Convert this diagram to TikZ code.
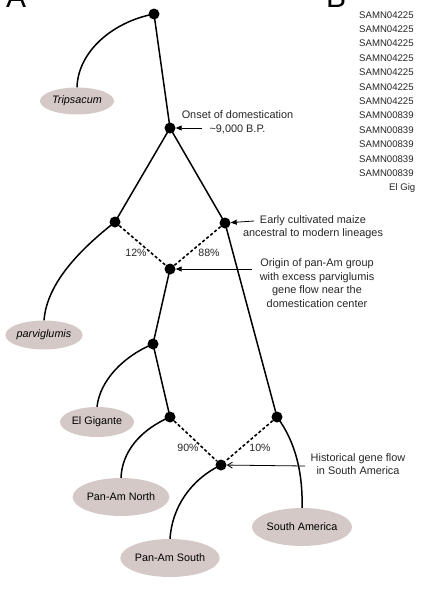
\documentclass[tikz,border=0pt]{standalone}
\usepackage{fontspec}
\setmainfont{Liberation Sans}
\usetikzlibrary{arrows.meta,shapes.geometric}
\definecolor{ellfill}{RGB}{213,201,199}
\begin{document}
\begin{tikzpicture}[x=1pt,y=-1pt,
  dot/.style={circle,fill=black,inner sep=0pt,minimum size=11pt},
  taxon/.style={ellipse,fill=ellfill,inner sep=0pt,font=\fontsize{10.8}{13}\selectfont},
  branch/.style={line width=1.5pt},
  flow/.style={line width=1.6pt,dash pattern=on 3pt off 2.2pt},
  note/.style={align=center,inner sep=0pt,font=\fontsize{10.9}{13.6}\selectfont,text=black!85},
  pct/.style={inner sep=0pt,font=\fontsize{10.6}{13}\selectfont,text=black!85},
  sample/.style={anchor=base west,inner sep=0pt,font=\fontsize{9.6}{11}\selectfont,text=black!85},
  pointer/.style={line width=0.8pt,-{Triangle[length=6pt,width=5pt]}},
  panel/.style={anchor=base west,inner sep=0pt,font=\fontsize{30}{30}\selectfont}]
\useasboundingbox (0,0) rectangle (421,589);
\clip (0,0) rectangle (421,589);
% taxa
\node[taxon,minimum width=74pt,minimum height=27pt] (trip) at (77,101) {\itshape Tripsacum};
\node[taxon,minimum width=75pt,minimum height=29pt] (parv) at (44,335) {\itshape parviglumis};
\node[taxon,minimum width=74pt,minimum height=30pt] (elg) at (97,422) {El Gigante};
\node[taxon,minimum width=94pt,minimum height=38pt] (pann) at (121,497) {Pan-Am North};
\node[taxon,minimum width=94pt,minimum height=38pt] (pans) at (170,558) {Pan-Am South};
\node[taxon,minimum width=94pt,minimum height=38pt] (sam) at (302,527) {South America};
% dots
\node[dot] (root) at (154,14) {};
\node[dot] (onset) at (170,128) {};
\node[dot] (l12) at (115,222) {};
\node[dot] (r88) at (225,223) {};
\node[dot] (mid) at (170,269) {};
\node[dot] (eg) at (153,344) {};
\node[dot] (l90) at (170,417) {};
\node[dot] (r10) at (277,417) {};
\node[dot] (bot) at (221,465) {};
% branches
\draw[branch] (root.center) .. controls (112,22) and (78,52) .. (trip.north);
\draw[branch] (root.center) -- (onset.center);
\draw[branch] (onset.center) -- (l12.center);
\draw[branch] (onset.center) -- (r88.center);
\draw[branch] (l12.center) .. controls (82,248) and (47,282) .. (parv.north);
\draw[branch] (r88.center) -- (r10.center);
\draw[branch] (r10.center) .. controls (296,442) and (303,475) .. (sam.north);
\draw[branch] (mid.center) -- (eg.center);
\draw[branch] (eg.center) .. controls (124,356) and (100,380) .. (elg.north);
\draw[branch] (eg.center) -- (l90.center);
\draw[branch] (l90.center) .. controls (140,430) and (122,452) .. (pann.north);
\draw[branch] (bot.center) .. controls (190,480) and (172,508) .. (pans.north);
% gene flow
\draw[flow] (l12) -- (mid);
\draw[flow] (r88) -- (mid);
\draw[flow] (l90) -- (bot);
\draw[flow] (r10) -- (bot);
\node[pct] (p12) at (136,253) {12\%};
\node[pct] (p88) at (209,253) {88\%};
\node[pct] (p90) at (188,448) {90\%};
\node[pct] (p10) at (260,448) {10\%};
% annotations
\node[note] (n1) at (237.5,122) {Onset of domestication\\\textasciitilde9,000 B.P.};
\coordinate (a1) at (202,128);
\draw[pointer] (a1) -- (onset);
\node[note] (n2) at (313,227) {Early cultivated maize\\ancestral to modern lineages};
\coordinate (a2) at (254,221);
\draw[pointer] (a2) -- (r88);
\node[note] (n3) at (317,283) {Origin of pan-Am group\\with excess parviglumis\\gene flow near the\\domestication center};
\coordinate (a3) at (252,269);
\draw[pointer] (a3) -- (mid);
\node[note] (n4) at (358,464) {Historical gene flow\\in South America};
\coordinate (a4) at (305,466);
\draw[line width=0.8pt,-{Straight Barb[length=5pt,width=6pt]}] (a4) -- (bot);
% panel letters
\node[panel] (A) at (6,8) {A};
\node[panel] (B) at (326,7) {B};
% sample list
\foreach \yy in {18,32.4,46.8,61.2,75.6,90,104.4}{\node[sample] at (359,\yy) {SAMN04225};}
\foreach \yy in {118.8,133.2,147.6,162,176.4}{\node[sample] at (359,\yy) {SAMN00839};}
\node[sample] (elgig) at (389,190.8) {El Gig};
\end{tikzpicture}
\end{document}
